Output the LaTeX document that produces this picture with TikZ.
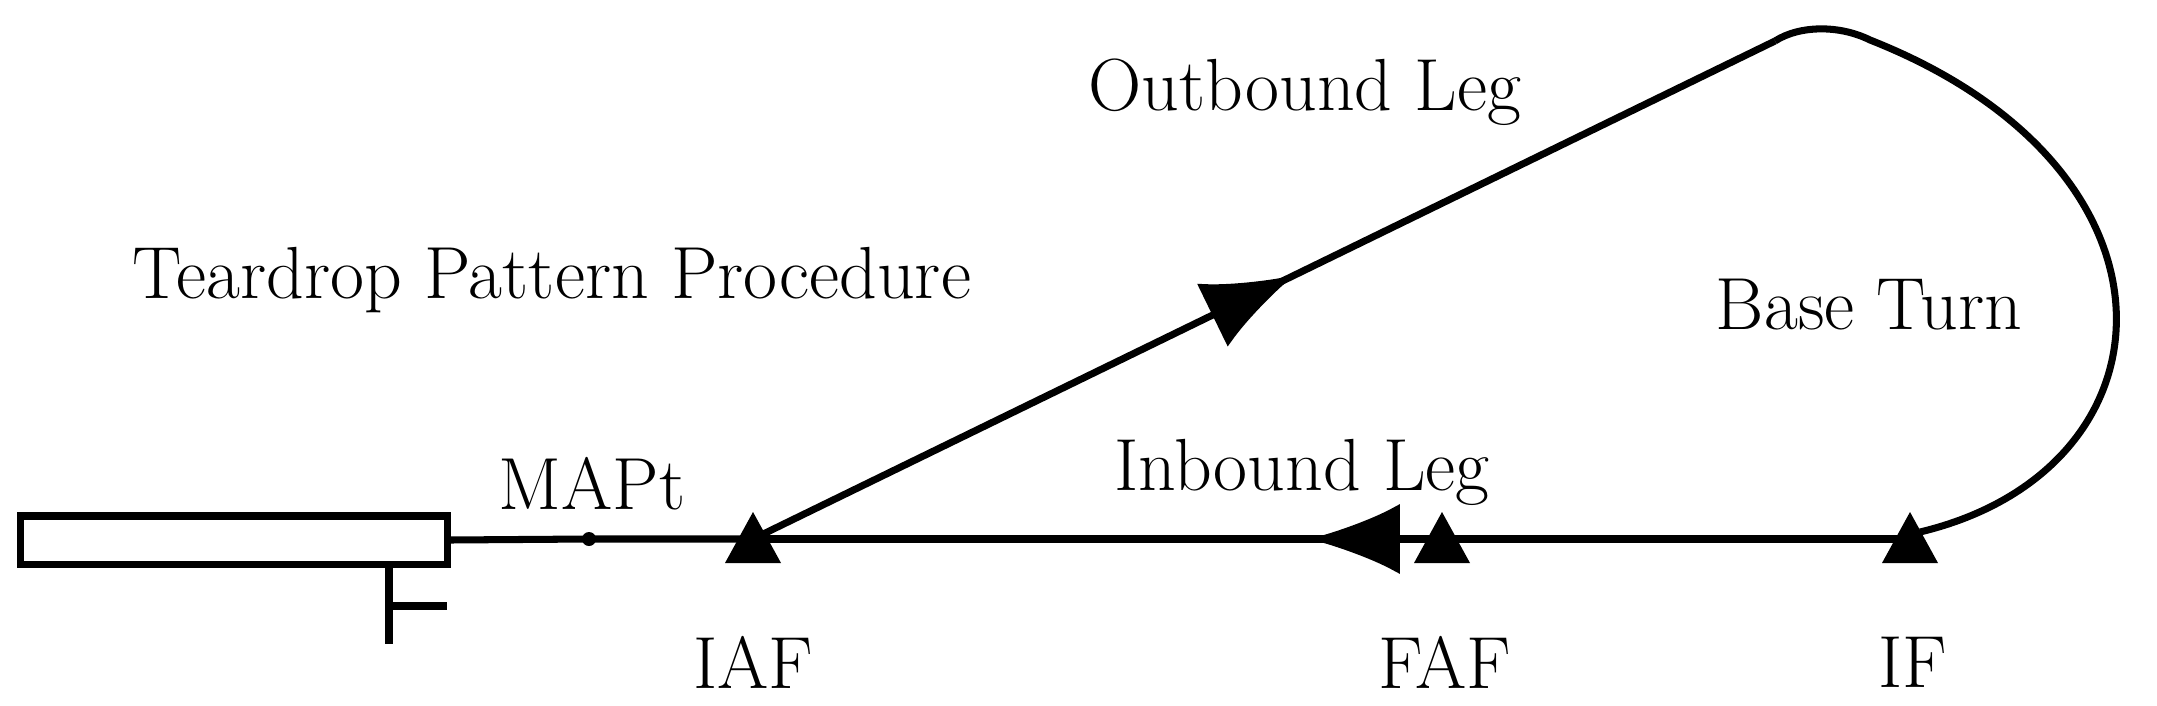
\documentclass[tikz,border=0pt]{standalone}
\usetikzlibrary{decorations.markings,arrows.meta,calc}
\begin{document}
\begin{tikzpicture}[x=0.01cm,y=-0.01cm,line width=2pt,
  lbl/.style={font=\fontsize{21}{25}\selectfont,inner sep=0pt},
  midarrow/.style={postaction={decorate},decoration={markings,mark=at position #1 with {\arrow{Latex[length=26pt,width=20pt]}}}}]
\useasboundingbox (0,0) rectangle (2157,706);
\node[draw,inner sep=0pt,anchor=center,minimum width=4.26cm,minimum height=0.48cm,line width=2pt] (rwy) at (234,540) {};
\coordinate (iaf) at (753,539);
\coordinate (faf) at (1442,539);
\coordinate (if) at (1910,539);
\coordinate (top) at (1775,41);
\coordinate (mapt) at (589,539);
\fill (mapt) circle (7);
\foreach \p in {iaf,faf,if}{
  \fill ($(\p)+(0,-27)$) -- ($(\p)+(-28,24)$) -- ($(\p)+(28,24)$) -- cycle;}
\draw (rwy.east) -- (mapt) -- (iaf);
\draw[midarrow=0.52] (if) -- (iaf);
\draw[midarrow=0.53] (iaf) -- (top);
\draw (top) .. controls (1800,25) and (1840,25) .. (1870,40)
  .. controls (2200,170) and (2180,470) .. (1920,532);
\coordinate (t1) at (389,564);
\coordinate (t2) at (389,644);
\coordinate (t3) at (447,606);
\draw (t1) -- (t2);
\draw (t1|-t3) -- (t3);
\node[lbl] (ob) at (1305,92) {Outbound Leg};
\node[lbl] (tp) at (552,280) {Teardrop Pattern Procedure};
\node[lbl] (bt) at (1869,305) {Base Turn};
\node[lbl] (ib) at (1302,472) {Inbound Leg};
\node[lbl] (mp) at (592,484) {MAPt};
\node[lbl] (l1) at (753,662) {IAF};
\node[lbl] (l2) at (1445,662) {FAF};
\node[lbl] (l3) at (1913,662) {IF};
\end{tikzpicture}
\end{document}
